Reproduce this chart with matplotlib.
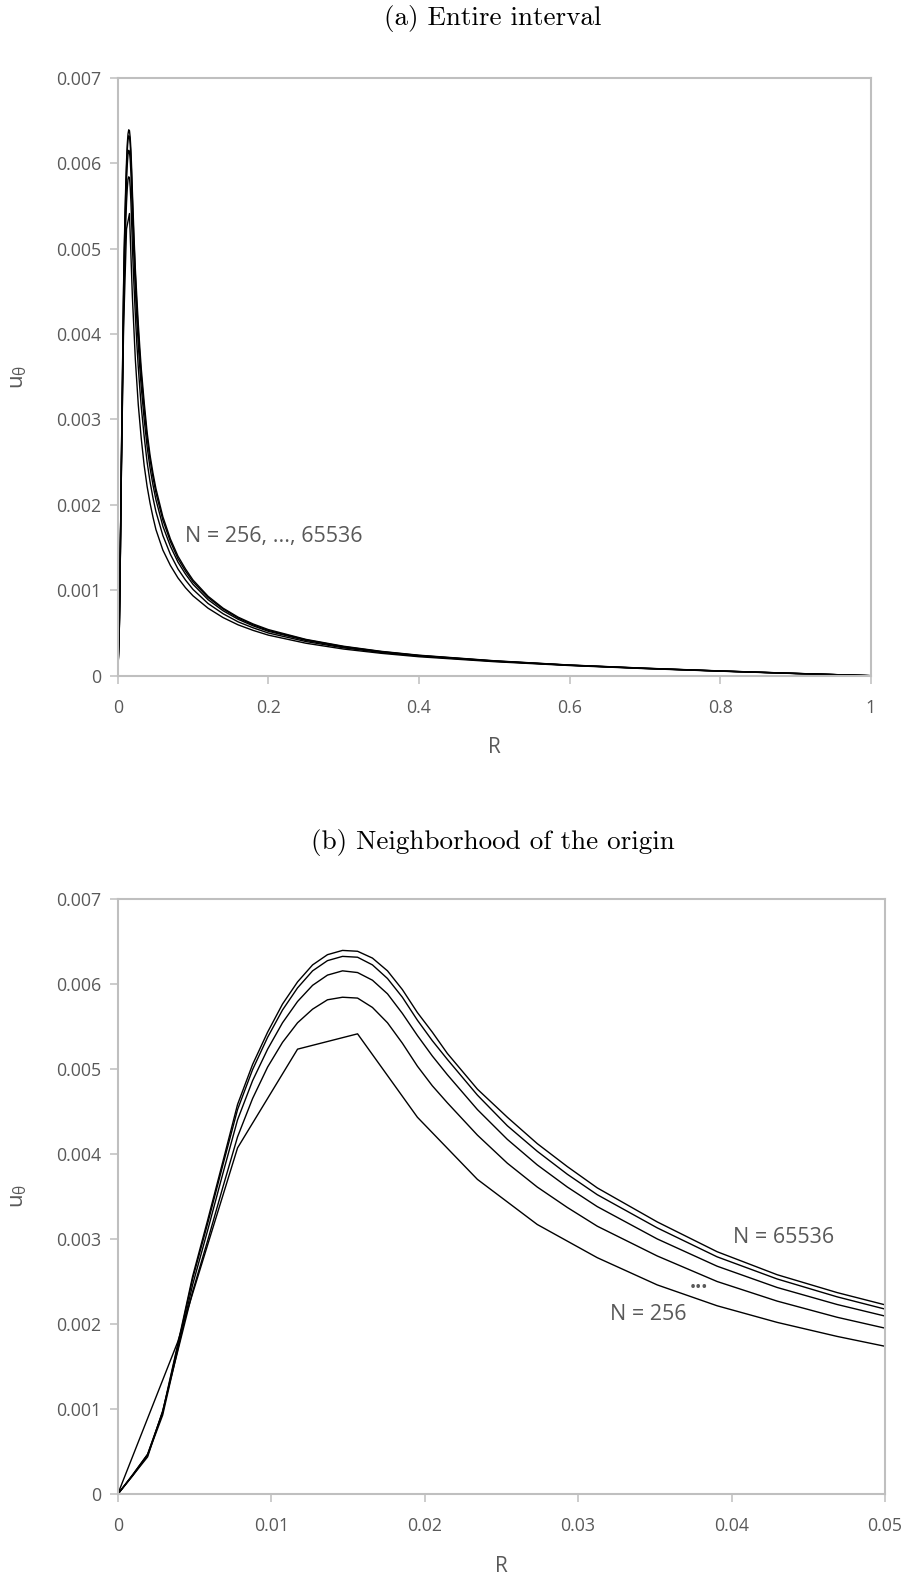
import matplotlib
matplotlib.use("Agg")
import matplotlib.pyplot as plt
from matplotlib.ticker import FixedLocator, FixedFormatter

plt.rcParams["font.family"] = ["Open Sans", "DejaVu Sans"]
plt.rcParams["mathtext.fontset"] = "custom"
plt.rcParams["mathtext.rm"] = "Open Sans"
plt.rcParams["mathtext.it"] = "Open Sans"

# Radial positions of the coarse (N = 256) solution
R_256 = [0.0, 0.00391, 0.00781, 0.01172, 0.01563, 0.01953, 0.02344, 0.02734,
         0.03125, 0.03516, 0.03906, 0.04297, 0.04688, 0.05078,
         0.06, 0.07, 0.08, 0.09, 0.1, 0.12, 0.14, 0.16, 0.18, 0.2,
         0.25, 0.3, 0.35, 0.4, 0.5, 0.6, 0.7, 0.8, 0.9, 1.0]
# u_theta in units of 1e-3
U_256 = [0.0, 1.79, 4.07, 5.23, 5.41, 4.43, 3.70, 3.17,
         2.78, 2.46, 2.215, 2.02, 1.855, 1.71,
         1.47, 1.29, 1.145, 1.03, 0.935, 0.79, 0.68, 0.595, 0.53, 0.475,
         0.38, 0.312, 0.262, 0.222, 0.164, 0.119, 0.083, 0.053, 0.025, 0.0]

# Radial positions shared by the finer solutions
R_FINE = [0.0, 0.00098, 0.00195, 0.00293, 0.00391, 0.00488, 0.00586, 0.00684,
          0.00781, 0.00879, 0.00977, 0.01074, 0.01172, 0.0127, 0.01367, 0.01465,
          0.01563, 0.0166, 0.01758, 0.01855, 0.01953, 0.0205, 0.02148, 0.02344,
          0.02539, 0.02734, 0.0293, 0.03125, 0.03516, 0.03906, 0.04297, 0.04688,
          0.05078, 0.06, 0.07, 0.08, 0.09, 0.1, 0.12, 0.14, 0.16, 0.18, 0.2,
          0.25, 0.3, 0.35, 0.4, 0.5, 0.6, 0.7, 0.8, 0.9, 1.0]

U_1024 = [0.0, 0.22, 0.44, 0.98, 1.68, 2.38, 2.98, 3.6,
          4.2, 4.65, 5.02, 5.31, 5.54, 5.70, 5.81, 5.84,
          5.83, 5.72, 5.54, 5.3, 5.03, 4.8, 4.6, 4.22,
          3.89, 3.61, 3.37, 3.15, 2.8, 2.5, 2.27, 2.08,
          1.92, 1.64, 1.42, 1.25, 1.12, 1.01, 0.845, 0.725, 0.63, 0.56, 0.5,
          0.4, 0.326, 0.272, 0.23, 0.169, 0.122, 0.085, 0.054, 0.026, 0.0]

U_4096 = [0.0, 0.22, 0.46, 0.93, 1.7, 2.46, 3.1, 3.76,
          4.4, 4.86, 5.23, 5.54, 5.79, 5.98, 6.1, 6.15,
          6.13, 6.04, 5.88, 5.65, 5.39, 5.15, 4.93, 4.52,
          4.17, 3.87, 3.61, 3.38, 3.0, 2.68, 2.43, 2.23,
          2.06, 1.75, 1.515, 1.33, 1.19, 1.07, 0.89, 0.76, 0.66, 0.583, 0.52,
          0.413, 0.335, 0.278, 0.234, 0.171, 0.123, 0.086, 0.055, 0.026, 0.0]

U_16384 = [0.0, 0.23, 0.47, 0.96, 1.74, 2.53, 3.18, 3.86,
           4.52, 4.99, 5.37, 5.69, 5.95, 6.15, 6.27, 6.32,
           6.31, 6.22, 6.06, 5.84, 5.57, 5.33, 5.11, 4.69,
           4.33, 4.03, 3.76, 3.52, 3.13, 2.79, 2.53, 2.32,
           2.14, 1.82, 1.57, 1.37, 1.225, 1.1, 0.915, 0.78, 0.675, 0.595, 0.53,
           0.42, 0.34, 0.282, 0.237, 0.173, 0.124, 0.087, 0.055, 0.027, 0.0]

U_65536 = [0.0, 0.23, 0.47, 0.97, 1.76, 2.56, 3.22, 3.9,
           4.58, 5.05, 5.43, 5.76, 6.02, 6.22, 6.34, 6.39,
           6.38, 6.3, 6.15, 5.93, 5.66, 5.43, 5.18, 4.76,
           4.43, 4.12, 3.85, 3.6, 3.2, 2.85, 2.58, 2.37,
           2.19, 1.86, 1.6, 1.4, 1.25, 1.12, 0.93, 0.79, 0.685, 0.605, 0.54,
           0.425, 0.345, 0.285, 0.24, 0.175, 0.125, 0.088, 0.056, 0.027, 0.0]

SERIES = [(R_256, U_256), (R_FINE, U_1024), (R_FINE, U_4096),
          (R_FINE, U_16384), (R_FINE, U_65536)]
U_UNIT = 1e-3

Y_TICKS = [0, 0.001, 0.002, 0.003, 0.004, 0.005, 0.006, 0.007]
Y_LABELS = ["0", "0.001", "0.002", "0.003", "0.004", "0.005", "0.006", "0.007"]
XA_TICKS = [0, 0.2, 0.4, 0.6, 0.8, 1.0]
XA_LABELS = ["0", "0.2", "0.4", "0.6", "0.8", "1"]
XB_TICKS = [0, 0.01, 0.02, 0.03, 0.04, 0.05]
XB_LABELS = ["0", "0.01", "0.02", "0.03", "0.04", "0.05"]

GRAY = "#BFBFBF"
TEXT = "#595959"
W, H = 906, 1578

fig = plt.figure(figsize=(W / 100, H / 100), dpi=100)


def px_axes(left, top, right, bottom):
    return fig.add_axes([left / W, 1 - bottom / H, (right - left) / W, (bottom - top) / H])


def style(ax, xticks, xlabels, xmax):
    ax.set_xlim(0, xmax)
    ax.set_ylim(0, 0.007)
    ax.xaxis.set_major_locator(FixedLocator(xticks))
    ax.xaxis.set_major_formatter(FixedFormatter(xlabels))
    ax.yaxis.set_major_locator(FixedLocator(Y_TICKS))
    ax.yaxis.set_major_formatter(FixedFormatter(Y_LABELS))
    for s in ax.spines.values():
        s.set_color(GRAY)
        s.set_linewidth(1.5)
    ax.tick_params(axis="both", direction="out", length=5.5, width=1.1,
                   color=GRAY, labelcolor=TEXT, labelsize=12.8)
    ax.tick_params(axis="x", pad=11)
    ax.tick_params(axis="y", pad=6.5)
    ax.set_xlabel("R", fontsize=15, color=TEXT, labelpad=15)
    ax.set_ylabel(r"$\mathregular{u_{\theta}}$", fontsize=16, color=TEXT, labelpad=19)


# (a) whole radial interval
ax1 = px_axes(117.7, 77.7, 870.7, 675.7)
for r, u in SERIES:
    ax1.plot(r, [v * U_UNIT for v in u], color="black", lw=1.0)
style(ax1, XA_TICKS, XA_LABELS, 1.0)
ax1.text(0.2069, 1.627e-3, "N = 256, ..., 65536", fontsize=15.5, color=TEXT,
         ha="center", va="center")

# (b) close to the origin
ax2 = px_axes(117.7, 898.5, 885.0, 1494.3)
for r, u in SERIES:
    ax2.plot(r, [v * U_UNIT for v in u], color="black", lw=1.0)
style(ax2, XB_TICKS, XB_LABELS, 0.05)
ax2.text(0.0434, 3.02e-3, "N = 65536", fontsize=15.5, color=TEXT, ha="center", va="center")
ax2.text(0.03458, 2.107e-3, "N = 256", fontsize=15.5, color=TEXT, ha="center", va="center")
ax2.text(0.0379, 2.42e-3, "...", fontsize=15.5, color=TEXT, fontweight="bold",
         ha="center", va="baseline")

fig.text(493 / W, 1 - 19 / H, "(a) Entire interval", family="cmr10", fontsize=19.5,
         ha="center", va="center", color="black")
fig.text(493 / W, 1 - 842 / H, "(b) Neighborhood of the origin", family="cmr10",
         fontsize=19.5, ha="center", va="center", color="black")

fig.savefig("out.png", dpi=100, facecolor="white")
